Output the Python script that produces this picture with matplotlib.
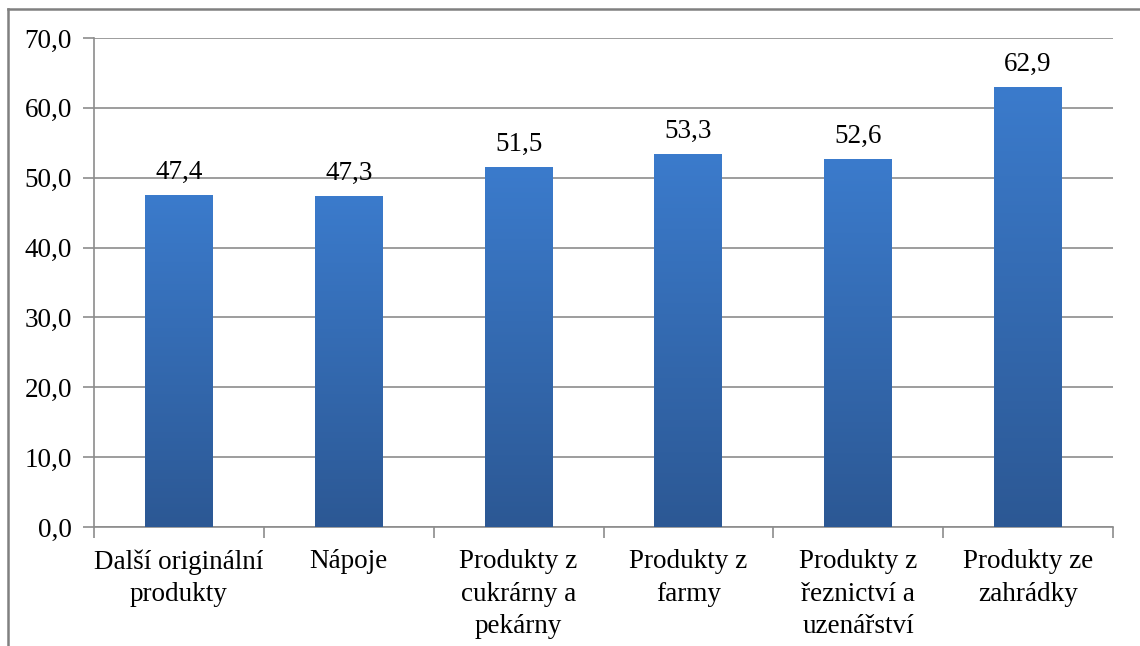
import numpy as np
import matplotlib.pyplot as plt
from matplotlib.lines import Line2D
from matplotlib.ticker import FuncFormatter, FixedLocator
from matplotlib.colors import LinearSegmentedColormap

# Kategorie produktů a jejich hodnoty
categories = ["Další originální\nprodukty", "Nápoje", "Produkty z\ncukrárny a\npekárny",
              "Produkty z\nfarmy", "Produkty z\nřeznictví a\nuzenářství", "Produkty ze\nzahrádky"]
values = [47.4, 47.3, 51.5, 53.3, 52.6, 62.9]

plt.rcParams['font.family'] = ['Liberation Serif', 'DejaVu Serif']
fs = 19.5

fig = plt.figure(figsize=(11.4, 6.46), dpi=100)
ax = fig.add_axes([94 / 1140, 1 - 527 / 646, (1113 - 94) / 1140, (527 - 38) / 646])

x = np.arange(len(values))
bar_w = 0.4
bars = ax.bar(x, values, width=bar_w, color='none', zorder=3)

# vertikální přechod barvy ve sloupcích
cmap = LinearSegmentedColormap.from_list('modra', ['#2c5894', '#3b7bcc'])
grad = np.linspace(0, 1, 256).reshape(-1, 1)
for b in bars:
    x0, w, h = b.get_x(), b.get_width(), b.get_height()
    ax.imshow(grad, cmap=cmap, extent=[x0, x0 + w, 0, h], origin='lower',
              aspect='auto', zorder=3)
    ax.text(x0 + w / 2, h + 1.5, f"{h:.1f}".replace('.', ','), ha='center',
            va='bottom', fontsize=fs, color='black')

ax.set_xlim(-0.5, len(values) - 0.5)
ax.set_ylim(0, 70)
ax.set_yticks(np.arange(0, 71, 10))
ax.yaxis.set_major_formatter(FuncFormatter(lambda v, p: f"{v:.1f}".replace('.', ',')))
ax.grid(axis='y', color='#8c8c8c', linewidth=1.2, zorder=0)

ax.set_xticks(x)
ax.set_xticklabels(categories, fontsize=fs, linespacing=1.4)
ax.xaxis.set_minor_locator(FixedLocator(np.arange(-0.5, len(values), 1.0)))
ax.tick_params(axis='x', which='major', length=0, pad=16)
ax.tick_params(axis='x', which='minor', length=8, color='#8c8c8c', width=1.2)
ax.tick_params(axis='y', length=8, color='#8c8c8c', width=1.2, labelsize=fs, pad=8)

for side in ['top', 'right']:
    ax.spines[side].set_visible(False)
for side in ['left', 'bottom']:
    ax.spines[side].set_color('#8c8c8c')
    ax.spines[side].set_linewidth(1.2)

# rámeček grafu
fig.add_artist(Line2D([8 / 1140, 8 / 1140], [0, 1 - 9 / 646], color='#808080', linewidth=1.8))
fig.add_artist(Line2D([8 / 1140, 1], [1 - 9 / 646, 1 - 9 / 646], color='#808080', linewidth=1.8))

fig.savefig('out.png', dpi=100)
